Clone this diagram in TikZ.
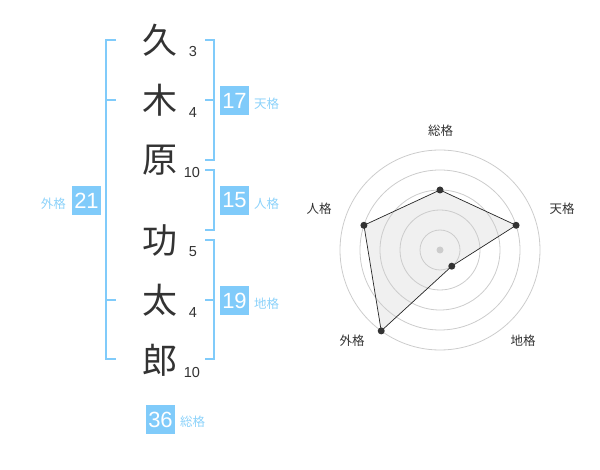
\documentclass[tikz,border=0pt]{standalone}
\usepackage{fontspec}
\newfontfamily\cjk{Noto Sans CJK JP}
\newfontfamily\numf{Liberation Sans}
\definecolor{boxblue}{RGB}{128,203,250}
\definecolor{lblblue}{RGB}{140,210,250}
\definecolor{kanjicol}{RGB}{51,51,51}
\definecolor{ringgray}{RGB}{204,204,204}
\definecolor{polyfill}{RGB}{240,240,240}
\begin{document}
\begin{tikzpicture}[x=1pt,y=-1pt,
  kanji/.style={font=\cjk\fontsize{35}{35}\selectfont, text=kanjicol, inner sep=0pt},
  strokenum/.style={font=\numf\fontsize{14.5}{14.5}\selectfont, text=kanjicol, inner sep=0pt},
  valbox/.style={fill=boxblue, text=white, minimum width=29pt, minimum height=29pt, inner sep=0pt, font=\numf\fontsize{22}{22}\selectfont},
  kaku/.style={font=\cjk\fontsize{12.5}{12.5}\selectfont, text=lblblue, inner sep=0pt},
  bracket/.style={draw=boxblue, line width=2pt},
  radlbl/.style={font=\cjk\fontsize{12.5}{12.5}\selectfont, text=kanjicol, inner sep=0pt},
  ring/.style={draw=ringgray, line width=0.8pt},
  dot/.style={circle, fill=kanjicol, inner sep=0pt, minimum size=7pt}
]
\useasboundingbox (0,0) rectangle (600,470);
% kanji
\node[kanji] (k1) at (160,40) {久};
\node[kanji] (k2) at (160,100) {木};
\node[kanji] (k3) at (160,160) {原};
\node[kanji] (k4) at (160,240) {功};
\node[kanji] (k5) at (160,300) {太};
\node[kanji] (k6) at (160,360) {郎};
% stroke numbers
\node[strokenum] (n1) at (193,52) {3};
\node[strokenum] (n2) at (193,113) {4};
\node[strokenum] (n3) at (192,173) {10};
\node[strokenum] (n4) at (193,252) {5};
\node[strokenum] (n5) at (193,313) {4};
\node[strokenum] (n6) at (192,373) {10};
% brackets
\draw[bracket] (116,40) -- (106,40) -- (106,359) -- (116,359);
\draw[bracket] (106,100) -- (116,100);
\draw[bracket] (106,300) -- (116,300);
\draw[bracket] (205,40) -- (214,40) -- (214,160) -- (205,160);
\draw[bracket] (205,100) -- (214,100);
\draw[bracket] (205,170) -- (214,170) -- (214,230) -- (205,230);
\draw[bracket] (205,240) -- (214,240) -- (214,359) -- (205,359);
\draw[bracket] (205,300) -- (214,300);
% value boxes
\node[valbox] (ten) at (234.5,100.5) {17};
\node[kaku, anchor=west] (tenl) at (254,104) {天格};
\node[valbox] (jin) at (234.5,200.5) {15};
\node[kaku, anchor=west] (jinl) at (254,204) {人格};
\node[valbox] (chi) at (234.5,300.5) {19};
\node[kaku, anchor=west] (chil) at (254,304) {地格};
\node[valbox] (gai) at (86.5,200.5) {21};
\node[kaku, anchor=east] (gail) at (66,204) {外格};
\node[valbox] (sou) at (160.5,419.5) {36};
\node[kaku, anchor=west] (soul) at (180,422) {総格};
% radar
\coordinate (c) at (440,250);
\path (c) ++(0,-60) coordinate (ps);
\path (c) ++(76.08,-24.72) coordinate (pt);
\path (c) ++(11.76,16.18) coordinate (pc);
\path (c) ++(-58.78,80.90) coordinate (pg);
\path (c) ++(-76.08,-24.72) coordinate (pj);
\fill[polyfill] (ps) -- (pt) -- (pc) -- (pg) -- (pj) -- cycle;
\foreach \r in {20,40,60,80,100} \draw[ring] (c) circle[radius=\r];
\fill[ringgray] (c) circle[radius=3.5];
\draw[draw=black!85, line width=0.7pt] (ps) -- (pt) -- (pc) -- (pg) -- (pj) -- cycle;
\node[dot] (ds) at (ps) {};
\node[dot] (dt) at (pt) {};
\node[dot] (dc) at (pc) {};
\node[dot] (dg) at (pg) {};
\node[dot] (dj) at (pj) {};
\node[radlbl] (ls) at (440.5,130.5) {総格};
\node[radlbl] (lt) at (562,209) {天格};
\node[radlbl] (lc) at (523,341) {地格};
\node[radlbl] (lg) at (352,341) {外格};
\node[radlbl] (lj) at (319,208.5) {人格};
\end{tikzpicture}
\end{document}
